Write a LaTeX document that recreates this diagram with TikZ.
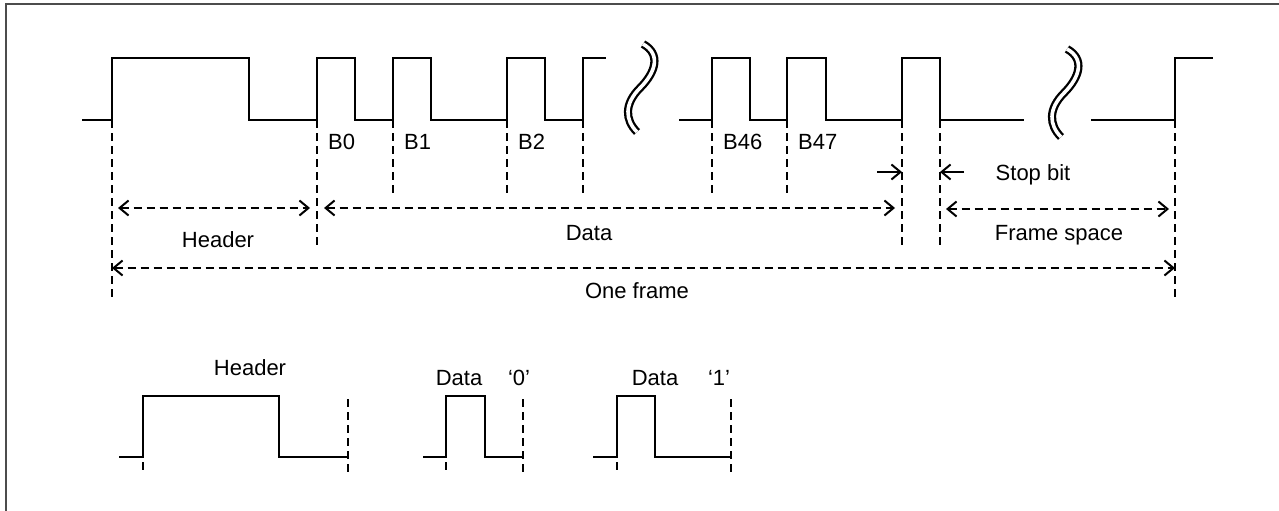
\documentclass[tikz,border=0pt]{standalone}
\usepackage{fontspec}
\setmainfont{Liberation Sans}
\usetikzlibrary{arrows.meta}

\begin{document}
\begin{tikzpicture}[x=1pt,y=-1pt,
   wave/.style={line width=2.7pt},
   guide/.style={line width=2pt,dash pattern=on 8pt off 5pt},
   barb/.tip={Straight Barb[length=9pt,width=15pt,line width=2pt]},
   dim/.style={guide,barb-barb},
   lbl/.style={font=\fontsize{22}{26}\selectfont,inner sep=0pt,anchor=base},
   brk/.style={line width=2.3pt,double,double distance=3.6pt}]
   \useasboundingbox (0,0) rectangle (1279,511);
   % \draw[help lines,step=50] (0,0) grid (1279,511);
   \draw[gray!60!black,line width=1.5pt] (6,511) -- (6,4) -- (1279,4);
   \def\lo{120}
   \def\hi{58}
   % one frame
   \draw[wave] (82,\lo) -| (112,\hi) -| (249,\lo) -| (317,\hi) -| (355,\lo)
      -| (393,\hi) -| (431,\lo) -| (507,\hi) -| (545,\lo) -| (583,\hi) -- (606,\hi);
   \draw[wave] (679,\lo) -| (712,\hi) -| (750,\lo) -| (787,\hi) -| (826,\lo)
      -| (902,\hi) -| (940,\lo) -- (1024,\lo);
   \draw[wave] (1091,\lo) -| (1175,\hi) -- (1213,\hi);
   \foreach \bx/\by in {643/44,1067/49}
      \draw[brk] (\bx,\by) .. controls +(18,10) and +(16,-16) .. (\bx-3,\by+44)
         .. controls +(-16,16) and +(-12,-12) .. (\bx-6,\by+88);
   % guide lines
   \foreach \x in {393,507,583,712,787}
      \draw[guide] (\x,\lo) -- (\x,196);
   \foreach \x/\n in {317/b,902/s,940/t}
      \draw[guide] (\x,\lo) -- (\x,248) coordinate (\n);
   \foreach \x/\n in {112/a,1175/e}
      \draw[guide] (\x,\lo) -- (\x,300) coordinate (\n);
   \foreach \x/\t in {317/B0,393/B1,507/B2,712/B46,787/B47}
      \node[lbl,anchor=base west] (\t) at (\x+11,149) {\t};
   % spans
   \coordinate (ha) at (112,208);
   \coordinate (hb) at (317,208);
   \coordinate (hs) at (902,208);
   \coordinate (ft) at (940,209);
   \coordinate (fe) at (1175,209);
   \coordinate (oa) at (112,268);
   \coordinate (oe) at (1175,268);
   \draw[dim,shorten <=6pt,shorten >=7pt] (ha) -- (hb);
   \draw[dim,shorten <=7pt,shorten >=7pt] (hb) -- (hs);
   \draw[dim,shorten <=6pt,shorten >=6pt] (ft) -- (fe);
   \draw[dim] (oa) -- (oe);
   \coordinate (sl) at (877,172);
   \coordinate (sa) at (902,172);
   \coordinate (sb) at (940,172);
   \coordinate (sr) at (964,172);
   \draw[line width=2pt,-barb] (sl) -- (sa);
   \draw[line width=2pt,-barb] (sr) -- (sb);
   \node[lbl] (hdr) at (218,247) {Header};
   \node[lbl] (dat) at (589,240) {Data};
   \node[lbl] (fsp) at (1059,240) {Frame space};
   \node[lbl] (one) at (637,298) {One frame};
   \node[lbl] (stp) at (1033,180) {Stop bit};
   % bit shapes
   \def\blo{457}
   \def\bhi{396}
   \draw[wave] (119,\blo) -| (143,\bhi) -| (279,\blo) -- (348,\blo);
   \draw[wave] (423,\blo) -| (446,\bhi) -| (485,\blo) -- (523,\blo);
   \draw[wave] (593,\blo) -| (617,\bhi) -| (655,\blo) -- (731,\blo);
   \foreach \x in {143,446,617}
      \draw[guide] (\x,462) -- (\x,472);
   \foreach \x in {348,523,731}
      \draw[guide] (\x,399) -- (\x,472);
   \node[lbl] (bh) at (250,375) {Header};
   \node[lbl] (bd0) at (459,385) {Data};
   \node[lbl] (bq0) at (519,385) {‘0’};
   \node[lbl] (bd1) at (655,385) {Data};
   \node[lbl] (bq1) at (719,385) {‘1’};
\end{tikzpicture}
\end{document}
